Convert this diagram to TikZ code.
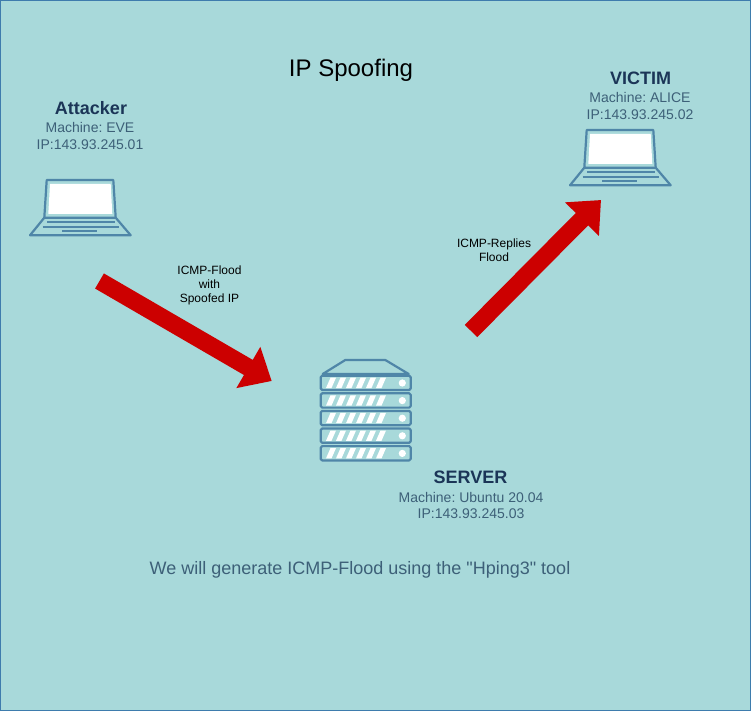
\documentclass[tikz,border=0pt]{standalone}
\usepackage{fontspec}
\setmainfont{Liberation Sans}
\newfontfamily\notefont{Liberation Sans}
\usetikzlibrary{arrows.meta}
\definecolor{bgc}{HTML}{A8D9DA}
\definecolor{edgec}{HTML}{3E7CAD}
\definecolor{iconc}{HTML}{4F86A8}
\definecolor{headc}{HTML}{1B3557}
\definecolor{bodyc}{HTML}{3D6078}
\definecolor{arrowc}{HTML}{CC0000}
\tikzset{
  x=1pt,y=-1pt,
  icon/.style={draw=iconc,line width=2.2pt,line join=round},
  heading/.style={text=headc,font=\frenchspacing\fontsize{18}{20}\selectfont\bfseries,inner sep=0pt},
  bodytext/.style={text=bodyc,font=\frenchspacing\fontsize{14}{16.2}\selectfont,align=center,inner sep=0pt},
  small/.style={text=black,font=\frenchspacing\fontsize{12}{14}\selectfont,align=center,inner sep=0pt},
  bigarrow/.style={draw=arrowc,line width=17.5pt,-{Triangle[length=27pt,width=46pt,fill=arrowc]}},
  pics/laptop/.style={code={
    \fill[white] (50,184) -- (110.7,184) -- (112.3,214) -- (48.3,214) -- cycle;
    \draw[icon] (44.3,217.7) -- (46.7,180) -- (113.3,180) -- (115.7,217.7) -- cycle;
    \draw[icon] (44.3,217.7) -- (30,235.3) -- (130.7,235.3) -- (115.7,217.7);
    \draw[icon] (47.3,222) -- (114.7,222);
    \draw[icon] (42.7,227) -- (119,227);
    \draw[icon] (62.3,231.3) -- (97,231.3);
  }},
  pics/serverrow/.style={code={
    \draw[icon,rounded corners=1.5pt] (320.7,375.7) rectangle (410.7,390);
    \foreach \i in {0,...,5}
      \fill[white] (326+\i*10,388) -- (331.5+\i*10,388) -- (336+\i*10,377.7) -- (330.5+\i*10,377.7) -- cycle;
    \fill[white] (402.3,383) circle (3.6);
  }}
}
\begin{document}
\begin{tikzpicture}
\useasboundingbox (0,0) rectangle (751,711);
\draw[fill=bgc,draw=edgec,line width=1pt] (0.5,0.5) rectangle (750.5,710.5);

\node (title) at (351,70) {\fontsize{24}{28}\selectfont IP Spoofing};

\node[heading] (attacker) at (91,108) {Attacker};
\node[bodytext] (attackerinfo) at (90,136) {Machine: EVE\\IP:143.93.245.01};
\pic (attackerpc) at (0,0) {laptop};

\node[heading] (victim) at (640.5,78) {VICTIM};
\node[bodytext] (victiminfo) at (640,106) {Machine: ALICE\\IP:143.93.245.02};
\pic (victimpc) at (540,-50) {laptop};

\draw[icon] (322.7,374) -- (345.3,360) -- (385.3,360) -- (408.7,374) -- cycle;
\pic (srv1) at (0,0) {serverrow};
\pic (srv2) at (0,17.6) {serverrow};
\pic (srv3) at (0,35.2) {serverrow};
\pic (srv4) at (0,52.8) {serverrow};
\pic (srv5) at (0,70.4) {serverrow};

\node[heading] (server) at (470.5,477) {SERVER};
\node[bodytext] (serverinfo) at (471,505.5) {Machine: Ubuntu 20.04\\IP:143.93.245.03};

\node[small] (floodlabel) at (209.5,285.5) {ICMP-Flood\\with\\Spoofed IP};
\node[small] (replylabel) at (494,250.5) {ICMP-Replies\\Flood};

\node[text=bodyc,font=\notefont\frenchspacing\fontsize{18}{21}\selectfont,inner sep=0pt] (note) at (360,570) {We will generate ICMP-Flood using the "Hping3" tool};

\coordinate (floodstart) at (99.5,281);
\coordinate (floodend) at (271.7,381);
\coordinate (replystart) at (471,331);
\coordinate (replyend) at (601,200);
\draw[bigarrow] (floodstart) -- (floodend);
\draw[bigarrow] (replystart) -- (replyend);
\end{tikzpicture}
\end{document}
